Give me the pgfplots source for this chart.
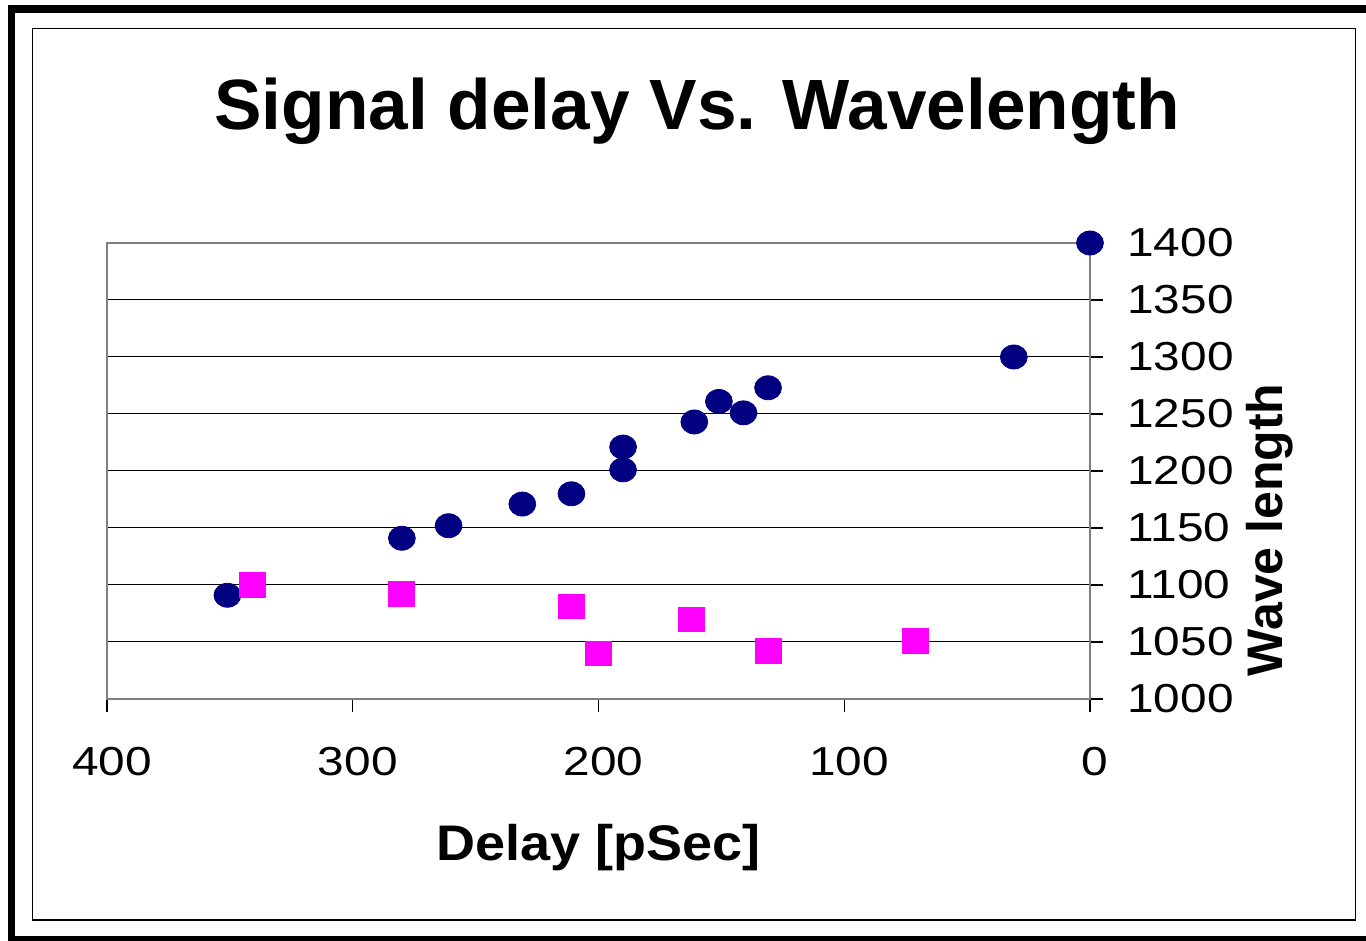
\documentclass[border=0pt]{standalone}
\usepackage{pgfplots}
\pgfplotsset{compat=1.18}
\usepackage{fontspec}
\setmainfont{Liberation Sans}
\newfontfamily\tickfont[FakeStretch=1.18]{Liberation Sans}
\newfontfamily\xlabfont[FakeStretch=1.08]{Liberation Sans}
\definecolor{navyblue}{HTML}{000080}
\definecolor{pinkmag}{HTML}{FF00FF}
\definecolor{plotgray}{HTML}{808080}
\begin{document}
\begin{tikzpicture}
\useasboundingbox (0,0) rectangle (683pt,470.5pt);
% outer thick border
\draw[black, line width=3.75pt] (5.75pt,0.5pt) rectangle (690pt,466pt);
% inner thin border
\draw[black, line width=0.75pt] (16.25pt,10.5pt) rectangle (677.75pt,456.25pt);
% title
\node[anchor=base, font=\fontsize{35.6}{40}\selectfont\bfseries] at (348.5pt,405.5pt) {Signal delay Vs. Wavelength};
\begin{axis}[
  at={(53.5pt,121pt)}, anchor=south west,
  scale only axis, width=491.5pt, height=228pt,
  x dir=reverse,
  xmin=0, xmax=400, ymin=1000, ymax=1400,
  xtick={0,100,200,300,400},
  ytick={1000,1050,...,1400},
  axis line style={plotgray, line width=1pt},
  ymajorgrids, grid style={black, line width=0.5pt},
  tick align=outside, major tick length=6.5pt,
  tick style={black, line width=0.6pt},
  xtick pos=left, ytick pos=right,
  yticklabel pos=right,
  /pgf/number format/assume math mode=true,
  /pgf/number format/set thousands separator={},
  ticklabel style={font=\tickfont\fontsize{20.25}{24}\selectfont, inner sep=0pt},
  xticklabel style={anchor=base, yshift=-32pt, xshift=2.5pt},
  yticklabel style={anchor=west, xshift=12pt},
  xlabel={Delay [pSec]},
  ylabel={Wave length},
  every axis x label/.style={at={(axis description cs:0.5,-0.325)}, anchor=center, font=\xlabfont\fontsize{25}{30}\selectfont\bfseries},
  every axis y label/.style={at={(axis description cs:1.183,0.371)}, anchor=center, rotate=90, font=\fontsize{25}{30}\selectfont\bfseries},
  clip=false,
]
\addplot[only marks, mark=*, color=navyblue, mark size=6pt, mark options={xscale=1.12, draw=navyblue, fill=navyblue}]
coordinates {
(0,1400) (31,1300) (131,1273) (151,1261) (141,1251) (161,1243)
(190,1221) (190,1201) (211,1180) (231,1171) (261,1152) (280,1141) (351,1091)
};
\addplot[only marks, mark=square*, color=pinkmag, mark size=6.5pt, mark options={draw=pinkmag, fill=pinkmag, rounded corners=1pt, yscale=0.94}]
coordinates {
(341,1100) (280,1092) (211,1081) (200,1040) (162,1070) (131,1042) (71,1051)
};
\end{axis}
\end{tikzpicture}
\end{document}
